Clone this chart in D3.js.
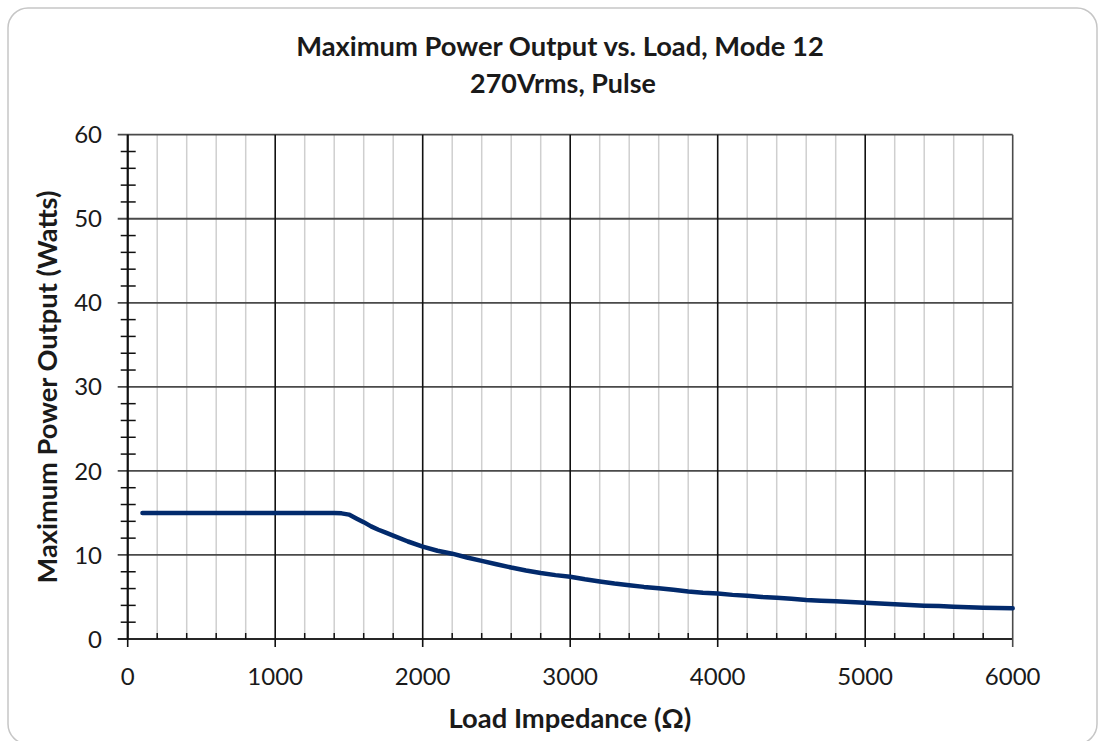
<!DOCTYPE html>
<html>
<head>
<meta charset="utf-8">
<script src="https://cdn.jsdelivr.net/npm/d3@7"></script>
<style>
  html, body { margin: 0; padding: 0; background: #fff; }
  svg { display: block; }
  text { font-family: Lato, "Open Sans", sans-serif; fill: #1a1a1a; }
</style>
</head>
<body>
<svg id="chart" width="1103" height="741"></svg>
<script>
// ---- data ----
const titleLines = ["Maximum Power Output vs. Load, Mode 12", "270Vrms, Pulse"];
const xTitle = "Load Impedance (\u03A9)";
const yTitle = "Maximum Power Output (Watts)";
const xTicks = [0, 1000, 2000, 3000, 4000, 5000, 6000];
const yTicks = [0, 10, 20, 30, 40, 50, 60];
const loadOhms = [100, 200, 300, 400, 500, 600, 700, 800, 900, 1000, 1100, 1200, 1300, 1400, 1450,
  1500, 1550, 1600, 1650, 1700, 1750, 1800, 1900, 2000, 2100, 2200, 2300, 2400, 2500, 2600, 2700, 2800, 2900,
  3000, 3100, 3200, 3300, 3400, 3500, 3600, 3700, 3800, 3900, 4000, 4100, 4200, 4300, 4400,
  4500, 4600, 4700, 4800, 4900, 5000, 5100, 5200, 5300, 5400, 5500, 5600, 5700, 5800, 5900, 6000];
const powerWatts = [15.0, 15.0, 15.0, 15.0, 15.0, 15.0, 15.0, 15.0, 15.0, 15.0, 15.0, 15.0, 15.0, 15.0, 14.95,
  14.8, 14.35, 13.9, 13.4, 13.0, 12.65, 12.3, 11.6, 11.0, 10.5, 10.15, 9.7, 9.3, 8.9, 8.5, 8.15, 7.85, 7.6,
  7.4, 7.1, 6.85, 6.6, 6.4, 6.2, 6.05, 5.85, 5.65, 5.5, 5.4, 5.25, 5.15, 5.0, 4.92,
  4.8, 4.65, 4.55, 4.48, 4.4, 4.32, 4.22, 4.12, 4.05, 3.97, 3.92, 3.85, 3.78, 3.72, 3.68, 3.65];

// ---- layout ----
const svg = d3.select("#chart");
const plotLeft = 127.7, plotRight = 1012.7, plotTop = 134.7, plotBottom = 639;

svg.append("rect")
  .attr("x", 8).attr("y", 8).attr("width", 1089).attr("height", 736)
  .attr("rx", 20).attr("ry", 20)
  .attr("fill", "#fff").attr("stroke", "#c6c6c6").attr("stroke-width", 1.5);

const x = d3.scaleLinear().domain([0, 6000]).range([plotLeft, plotRight]);
const y = d3.scaleLinear().domain([0, 60]).range([plotBottom, plotTop]);

const minorX = d3.range(0, 6001, 200);
const minorY = d3.range(0, 61, 2);

// minor vertical gridlines
svg.append("g").selectAll("line").data(minorX.filter(v => v % 1000 !== 0)).join("line")
  .attr("x1", d => x(d)).attr("x2", d => x(d))
  .attr("y1", y(60)).attr("y2", y(0))
  .attr("stroke", "#cfcfcf").attr("stroke-width", 1.5);

// horizontal major gridlines (extend left as outside ticks)
svg.append("g").selectAll("line").data(yTicks).join("line")
  .attr("x1", plotLeft - 10).attr("x2", plotRight)
  .attr("y1", d => y(d)).attr("y2", d => y(d))
  .attr("stroke", d => d === 0 ? "#262626" : "#4a4a4a").attr("stroke-width", 1.8);

// major vertical gridlines (extend below as outside ticks)
svg.append("g").selectAll("line").data(xTicks).join("line")
  .attr("x1", d => x(d)).attr("x2", d => x(d))
  .attr("y1", y(60)).attr("y2", y(0) + 8)
  .attr("stroke", d => d === 6000 ? "#4a4a4a" : "#111").attr("stroke-width", 1.6);

// y minor cross ticks
svg.append("g").selectAll("line").data(minorY.filter(v => v % 10 !== 0)).join("line")
  .attr("x1", plotLeft - 7).attr("x2", plotLeft + 8)
  .attr("y1", d => y(d)).attr("y2", d => y(d))
  .attr("stroke", "#111").attr("stroke-width", 1.5);

// x minor inside ticks
svg.append("g").selectAll("line").data(minorX.filter(v => v % 1000 !== 0)).join("line")
  .attr("x1", d => x(d)).attr("x2", d => x(d))
  .attr("y1", y(0) - 6).attr("y2", y(0))
  .attr("stroke", "#111").attr("stroke-width", 1.5);

// axes lines
svg.append("line").attr("x1", plotLeft).attr("x2", plotLeft).attr("y1", y(60)).attr("y2", y(0))
  .attr("stroke", "#111").attr("stroke-width", 2);

// tick labels
svg.append("g").selectAll("text").data(yTicks).join("text")
  .attr("x", 102).attr("y", d => y(d)).attr("dy", "0.36em")
  .attr("text-anchor", "end").attr("font-size", 24).attr("fill", "#262626")
  .text(d => d);
svg.append("g").selectAll("text").data(xTicks).join("text")
  .attr("x", d => x(d)).attr("y", 685)
  .attr("text-anchor", "middle").attr("font-size", 24).attr("fill", "#262626")
  .text(d => d);

// data line
const line = d3.line().x(d => x(d[0])).y(d => y(d[1]));
svg.append("path")
  .datum(loadOhms.map((v, i) => [v, powerWatts[i]]))
  .attr("d", line)
  .attr("fill", "none").attr("stroke", "#022a6c").attr("stroke-width", 4.5)
  .attr("stroke-linejoin", "round").attr("stroke-linecap", "round");

// fit text to target width
function fit(sel, target) {
  const base = 20;
  sel.attr("font-size", base);
  const w = sel.node().getComputedTextLength();
  sel.attr("font-size", base * target / w);
  return sel;
}

fit(svg.append("text").attr("x", 560).attr("y", 56).attr("text-anchor", "middle")
  .attr("font-weight", "bold").text(titleLines[0]), 528);
fit(svg.append("text").attr("x", 563).attr("y", 93).attr("text-anchor", "middle")
  .attr("font-weight", "bold").text(titleLines[1]), 186);
fit(svg.append("text").attr("transform", "translate(47,387) rotate(-90)")
  .attr("dy", "0.36em").attr("text-anchor", "middle")
  .attr("font-weight", "bold").text(yTitle), 393);
fit(svg.append("text").attr("x", 570).attr("y", 728).attr("text-anchor", "middle")
  .attr("font-weight", "bold").text(xTitle), 243);
</script>
</body>
</html>
